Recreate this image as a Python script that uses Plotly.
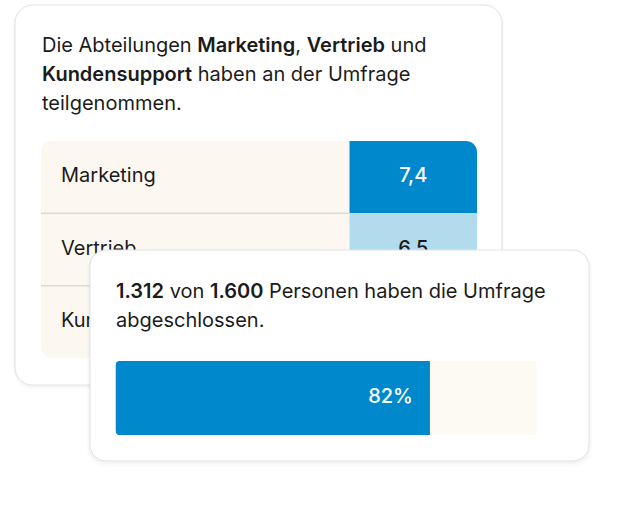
import numpy as np
import plotly.graph_objects as go

W, H = 624, 523

# data
departments = ["Marketing", "Vertrieb", "Kundensupport"]
scores = [7.4, 6.5, 5.9]          # third value is hidden behind the front card
completed = 1312
total = 1600
bar_filled = [74.6]               # filled share of the progress bar as drawn
bar_track = [100]

score_colors = ["#0088CC", "#B3DBEE", "#D6ECF7"]
score_text_colors = ["#FFFFFF", "#1A1A1A", "#1A1A1A"]

FONT = "Inter"
FS = 20
INK = "#1B1B1B"
CREAM = "#FCF8F1"
BLUE = "#0088CC"


def de_num(v, dec=0):
    s = f"{v:,.{dec}f}"
    return s.replace(",", "X").replace(".", ",").replace("X", ".")


def rounded_rect(x0, y0, x1, y1, r, n=14):
    xs, ys = [], []
    corners = [(x1 - r, y0 + r, -np.pi / 2, 0), (x1 - r, y1 - r, 0, np.pi / 2),
               (x0 + r, y1 - r, np.pi / 2, np.pi), (x0 + r, y0 + r, np.pi, 1.5 * np.pi)]
    for cx, cy, a0, a1 in corners:
        t = np.linspace(a0, a1, n)
        xs += list(cx + r * np.cos(t))
        ys += list(cy + r * np.sin(t))
    xs.append(xs[0])
    ys.append(ys[0])
    return xs, ys


def corner_mask(cx, cy, sx, sy, r, n=10):
    # white patch that rounds a square corner (px, y down)
    ax, ay = cx + sx * r, cy + sy * r
    t = np.linspace(0, np.pi / 2, n)
    xs = [cx - sx, ax] + list(ax - sx * r * np.sin(t)) + [cx - sx, cx - sx]
    ys = [cy - sy, cy - sy] + list(ay - sy * r * np.cos(t)) + [cy + sy * r, cy - sy]
    return xs, ys


def px_path(xs, ys):
    pts = [f"{x / W:.5f},{1 - y / H:.5f}" for x, y in zip(xs, ys)]
    return "M" + "L".join(pts) + "Z"


def semi(txt):
    return f'<span style="font-weight:600">{txt}</span>'


# geometry (px)
C1 = (15, 5, 502, 385)
C2 = (90, 250, 589, 461)
TX0, TX1, TY0, TY1 = 41, 477, 141, 358
VAL_X0 = 349.5
BX0, BX1, BY0, BY1 = 115.5, 537, 361, 435

label_share = (VAL_X0 - TX0) / (TX1 - TX0)
rows = list(range(len(departments)))

fig = go.Figure()

# ---- card 1 (paper shapes, under every subplot)
shapes = []
for k, a in [(4, 0.018), (2, 0.025)]:
    xs, ys = rounded_rect(C1[0] - k / 2, C1[1], C1[2] + k / 2, C1[3] + k, 18 + k / 2)
    shapes.append(dict(type="path", path=px_path(xs, ys), xref="paper", yref="paper",
                       fillcolor=f"rgba(0,0,0,{a})", line_width=0, layer="below"))
xs, ys = rounded_rect(*C1, 18)
shapes.append(dict(type="path", path=px_path(xs, ys), xref="paper", yref="paper",
                   fillcolor="white", line=dict(color="#E2E2E2", width=1), layer="below"))

# ---- table (subplot xy)
fig.add_trace(go.Bar(y=rows, x=[label_share] * len(rows), base=0, orientation="h", width=1,
                     marker=dict(color=CREAM, line_width=0), xaxis="x", yaxis="y",
                     hoverinfo="skip"))
fig.add_trace(go.Bar(y=rows, x=[1 - label_share] * len(rows), base=label_share, orientation="h",
                     width=1, marker=dict(color=score_colors, line_width=0), xaxis="x", yaxis="y",
                     hoverinfo="skip"))
for b in rows[:-1]:
    fig.add_trace(go.Scatter(x=[0, label_share], y=[b + 0.5, b + 0.5], mode="lines",
                             line=dict(color="#DDD8D0", width=1.5), xaxis="x", yaxis="y",
                             hoverinfo="skip"))
fig.add_trace(go.Scatter(x=[20 / (TX1 - TX0)] * len(rows), y=rows, mode="text",
                         text=departments, textposition="middle right",
                         textfont=dict(family=FONT, size=FS, color=INK),
                         xaxis="x", yaxis="y", hoverinfo="skip"))
fig.add_trace(go.Scatter(x=[label_share + (1 - label_share) / 2] * len(rows), y=rows, mode="text",
                         text=[de_num(v, 1) for v in scores], textposition="middle center",
                         textfont=dict(family=FONT, size=FS, color=score_text_colors, weight=500),
                         xaxis="x", yaxis="y", hoverinfo="skip"))

# ---- px overlay above the table: rounded table corners + card 2 (subplot x2y2)
tr = 11
for cx, cy, sx, sy in [(TX0, TY0, 1, 1), (TX1, TY0, -1, 1), (TX0, TY1, 1, -1), (TX1, TY1, -1, -1)]:
    xs, ys = corner_mask(cx, cy, sx, sy, tr)
    fig.add_trace(go.Scatter(x=xs, y=ys, fill="toself", fillcolor="white", mode="none",
                             xaxis="x2", yaxis="y2", hoverinfo="skip"))
for k, a in [(6, 0.015), (3, 0.025)]:
    xs, ys = rounded_rect(C2[0] - k / 2, C2[1], C2[2] + k / 2, C2[3] + k, 16 + k / 2)
    fig.add_trace(go.Scatter(x=xs, y=ys, fill="toself", fillcolor=f"rgba(0,0,0,{a})", mode="none",
                             xaxis="x2", yaxis="y2", hoverinfo="skip"))
xs, ys = rounded_rect(*C2, 16)
fig.add_trace(go.Scatter(x=xs, y=ys, fill="toself", fillcolor="white", mode="lines",
                         line=dict(color="#E2E2E2", width=1), xaxis="x2", yaxis="y2",
                         hoverinfo="skip"))

# ---- progress bar (subplot x3y3)
pct = round(100 * completed / total)
fig.add_trace(go.Bar(x=bar_track, y=[0], orientation="h", width=1,
                     marker=dict(color="#FDF9F3", line_width=0, cornerradius=4),
                     xaxis="x3", yaxis="y3", hoverinfo="skip"))
fig.add_trace(go.Bar(x=bar_filled, y=[0], orientation="h", width=1,
                     marker=dict(color=BLUE, line_width=0),
                     xaxis="x3", yaxis="y3", hoverinfo="skip"))
pad = 17 * 100 / (BX1 - BX0)
fig.add_trace(go.Scatter(x=[bar_filled[0] - pad], y=[0], mode="text", text=[f"{pct}%"],
                         textposition="middle left",
                         textfont=dict(family=FONT, size=FS, color="white", weight=500),
                         xaxis="x3", yaxis="y3", hoverinfo="skip"))

# ---- px overlay above the progress bar: its rounded left corners (subplot x4y4)
for cx, cy, sx, sy in [(BX0, BY0, 1, 1), (BX0, BY1, 1, -1)]:
    xs, ys = corner_mask(cx, cy, sx, sy, 4)
    fig.add_trace(go.Scatter(x=xs, y=ys, fill="toself", fillcolor="white", mode="none",
                             xaxis="x4", yaxis="y4", hoverinfo="skip"))


# ---- texts
def line(txt, x, y):
    return dict(text=txt, x=x / W, y=1 - y / H, xref="paper", yref="paper", xanchor="left",
                yanchor="middle", showarrow=False, borderpad=0,
                font=dict(family=FONT, size=FS, color=INK))


annotations = [
    line(f"Die Abteilungen {semi('Marketing')}, {semi('Vertrieb')} und", 41, 45),
    line(f"{semi('Kundensupport')} haben an der Umfrage", 41, 74),
    line("teilgenommen.", 41, 102.5),
    line(f"{semi(de_num(completed))} von {semi(de_num(total))} Personen haben die Umfrage", 115, 291),
    line("abgeschlossen.", 115, 320),
]

hidden = dict(visible=False, fixedrange=True)
px_x = dict(range=[0, W], domain=[0, 1], **hidden)
px_y = dict(range=[H, 0], domain=[0, 1], **hidden)

fig.update_layout(
    width=W, height=H, margin=dict(l=0, r=0, t=0, b=0),
    paper_bgcolor="white", plot_bgcolor="rgba(0,0,0,0)",
    showlegend=False, hovermode=False, barmode="overlay",
    shapes=shapes, annotations=annotations,
    xaxis=dict(range=[0, 1], domain=[TX0 / W, TX1 / W], anchor="y", **hidden),
    yaxis=dict(range=[len(rows) - 0.5, -0.5], domain=[1 - TY1 / H, 1 - TY0 / H], anchor="x", **hidden),
    xaxis2=dict(anchor="y2", **px_x),
    yaxis2=dict(anchor="x2", **px_y),
    xaxis3=dict(range=[0, 100], domain=[BX0 / W, BX1 / W], anchor="y3", **hidden),
    yaxis3=dict(range=[-0.5, 0.5], domain=[1 - BY1 / H, 1 - BY0 / H], anchor="x3", **hidden),
    xaxis4=dict(anchor="y4", **px_x),
    yaxis4=dict(anchor="x4", **px_y),
)

fig.write_html("out.html", config=dict(displayModeBar=False),
               post_script="document.body.style.margin='0';")
